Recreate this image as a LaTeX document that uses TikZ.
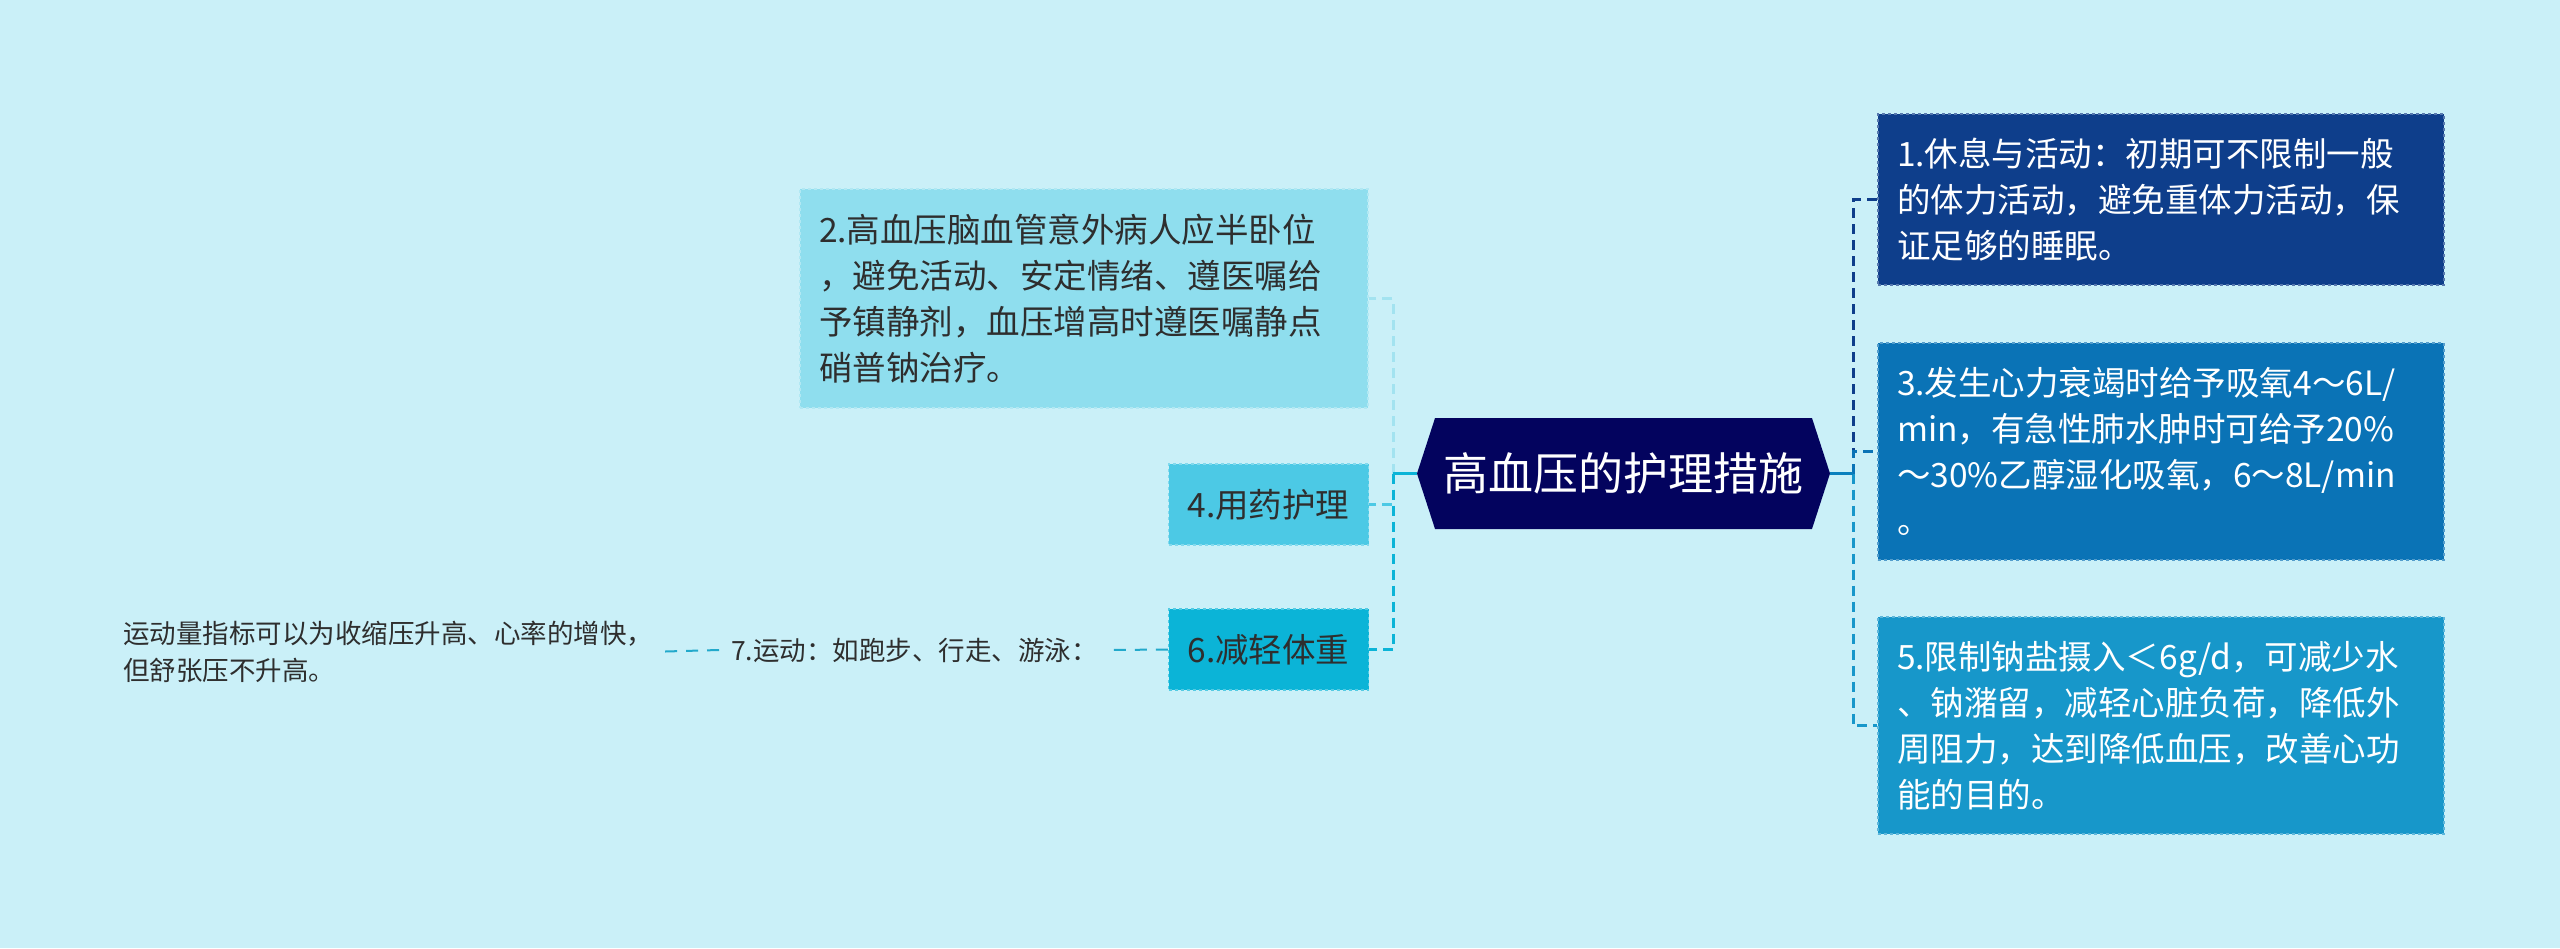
\documentclass[tikz,border=0pt]{standalone}
\usepackage{fontspec}
\setmainfont{Noto Sans CJK SC}
\definecolor{BgCyan}{HTML}{CAF0F8}
\definecolor{RootNavy}{HTML}{03035E}
\definecolor{BoxOne}{HTML}{0E3E8B}
\definecolor{BoxThree}{HTML}{0A73B6}
\definecolor{BoxFive}{HTML}{1797CA}
\definecolor{BoxTwo}{HTML}{8FDEEE}
\definecolor{BoxFour}{HTML}{4CC9E5}
\definecolor{BoxSix}{HTML}{0BB4D7}
\definecolor{LinkTwo}{HTML}{A3E3F0}
\definecolor{LinkSeven}{HTML}{22A9CB}
\definecolor{TextDark}{HTML}{2E2E2E}
\usetikzlibrary{shapes.symbols}
\tikzset{
	item/.style={fill=#1, draw=#1!70!white, dashed, line width=1.5, inner xsep=19, inner ysep=0, align=left, minimum width=566, text width=528, font=\fontsize{33.5}{46}\selectfont},
	tag/.style={fill=#1, draw=#1!70!white, dashed, line width=1.5, inner sep=0, minimum width=200, minimum height=81, text=TextDark, font=\fontsize{33.5}{46}\selectfont},
	link/.style={draw=#1, line width=3, dash pattern=on 10 off 6},
	stub/.style={draw=#1, line width=3},
	note/.style={text=TextDark, inner xsep=12, inner ysep=0, align=left, font=\fontsize{26.5}{37}\selectfont}
}

\begin{document}
\begin{tikzpicture}[x=1pt, y=-1pt]
		\useasboundingbox (0,0) rectangle (2560,948);
		\fill[BgCyan] (0,0) rectangle (2560,948);
		
		\node[signal, signal to=west and east, signal pointer angle=144, fill=RootNavy, text=white, inner sep=0, minimum width=413, minimum height=111, font=\fontsize{45}{54}\selectfont] (root) at (1623.5, 473.5) {高血压的护理措施};
		
		\node[item=BoxOne, text=white, minimum height=171] (rest) at (2161, 199.5) {1.休息与活动：初期可不限制一般\\的体力活动，避免重体力活动，保\\证足够的睡眠。};
		\node[item=BoxThree, text=white, minimum height=217] (oxygen) at (2161, 451.5) {3.发生心力衰竭时给予吸氧4～6L/\\min，有急性肺水肿时可给予20\%\\～30\%乙醇湿化吸氧，6～8L/min\\。};
		\node[item=BoxFive, text=white, minimum height=217] (salt) at (2161, 725.5) {5.限制钠盐摄入＜6g/d，可减少水\\、钠潴留，减轻心脏负荷，降低外\\周阻力，达到降低血压，改善心功\\能的目的。};
		
		\node[item=BoxTwo, text=TextDark, minimum width=568, text width=530, minimum height=219] (stroke) at (1084, 298.5) {2.高血压脑血管意外病人应半卧位\\，避免活动、安定情绪、遵医嘱给\\予镇静剂，血压增高时遵医嘱静点\\硝普钠治疗。};
		\node[tag=BoxFour] (drug) at (1268.5, 504.5) {4.用药护理};
		\node[tag=BoxSix] (weight) at (1268.5, 649.5) {6.减轻体重};
		
		\node[note] (sport) at (914.5, 650) {7.运动：如跑步、行走、游泳：};
		\node[note] (pulse) at (388, 651.5) {运动量指标可以为收缩压升高、心率的增快，\\但舒张压不升高。};
		
		\coordinate (rs) at (1853, 473.5);
		\coordinate (ls) at (1393, 473.5);
		
		\draw[link=BoxOne] (rs) |- (rest.west);
		\draw[link=BoxThree] (rs) |- (oxygen.west);
		\draw[link=BoxFive] (rs) |- (salt.west);
		\draw[stub=BoxThree!80!BoxSix] (root.east) -- (rs);
		
		\draw[link=LinkTwo] (ls) |- (stroke.east);
		\draw[link=BoxFour] (ls) |- (drug.east);
		\draw[link=BoxSix] (ls) |- (weight.east);
		\draw[stub=BoxSix] (root.west) -- (ls);
		
		\draw[LinkSeven, line width=2, dash pattern=on 12 off 9] (weight.west) -- (sport.east);
		\draw[LinkSeven, line width=2, dash pattern=on 12 off 9] (sport.west) -- (pulse.east);
	\end{tikzpicture}
\end{document}
